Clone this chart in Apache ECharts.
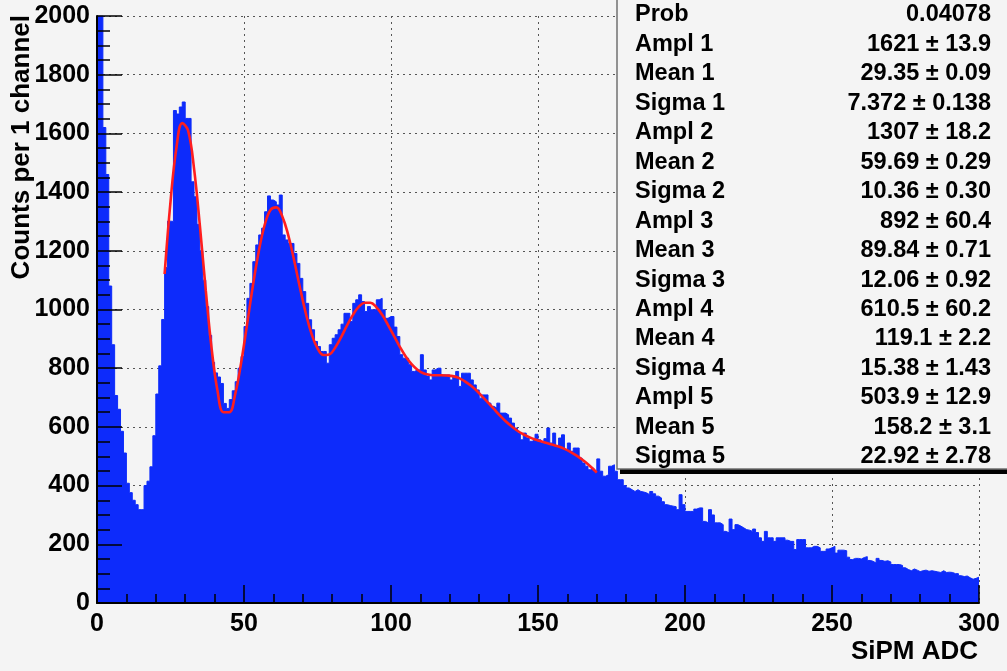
<!DOCTYPE html>
<html><head><meta charset="utf-8">
<script src="https://cdn.jsdelivr.net/npm/echarts@6/dist/echarts.min.js"></script>
<style>html,body{margin:0;padding:0;background:#f4f4f4;} #c{width:1007px;height:671px;}</style>
</head><body><div id="c"></div>
<script>
// Histogram counts per 1-channel bin (bins 0..299)
const countsA = [
2000,2000,1620,1460,1080,880,707,660,585,511,
408,376,350,335,318,318,400,415,464,570,
712,808,966,1143,1301,1300,1678,1666,1690,1707,
1651,1651,1435,1384,1290,1200,1100,1010,912,820,
784,770,748,680,663,693,723,754,800,840,
942,1038,1089,1163,1220,1254,1277,1333,1387,1373,
1367,1356,1390,1254,1237,1225,1225,1191,1157,1106,
1061,1021,965,931,891,874,857,857,817,880,
902,914,931,950,987,987,959,1021,1033,1050,
1027,993,1010,999,999,1033,1038,999,970,976];
const countsB = [
976,940,908,846,834,834,812,789,794,794,
846,794,773,760,794,800,800,777,777,777,
760,773,789,738,783,783,783,760,743,726,
698,709,709,681,670,664,681,647,647,641,
630,613,596,579,556,579,562,551,556,575,
556,545,560,596,545,579,534,562,573,522,
545,517,528,528,494,477,466,454,460,449,
491,449,432,437,466,471,449,420,420,400,
392,386,380,386,380,378,375,369,380,372,
364,358,345,335,332,330,328,318,369,335];
const countsC = [
312,312,312,320,324,324,278,273,318,300,
273,273,267,244,239,286,250,267,262,256,
250,248,244,252,240,222,210,244,222,222,
210,222,222,222,214,210,210,182,216,216,
216,188,188,193,193,188,176,176,184,188,
193,170,180,180,178,156,148,152,152,150,
155,158,145,142,136,152,145,142,144,140,
131,131,131,128,120,114,110,116,112,107,
110,112,108,110,108,106,104,110,104,105,
104,100,100,93,90,92,86,81,84,88];

// Fit curve (red)
const fitX = [23,25,27,29,31,33,35,37,39,41,43,45,47,49,51,53,55,57,59,61,63,65,67,69,71,73,75,77,79,81,83,85,87,89,91,93,95,97,99,101,103,105,107,109,111,113,115,117,119,121,123,125,127,129,131,133,135,137,139,141,143,145,147,149,151,153,155,157,159,161,163,165,167,169,170];
const fitY = [1121,1367,1550,1635,1609,1481,1285,1065,866,722,650,650,711,817,946,1079,1197,1287,1339,1348,1318,1255,1170,1076,988,916,868,845,847,870,905,945,981,1009,1023,1023,1008,982,947,910,873,840,814,795,783,778,776,776,775,773,767,756,742,725,704,683,661,639,619,602,587,575,565,557,551,545,539,533,525,515,503,489,473,454,444];

// Stats box text
const statNames = ["Prob","Ampl 1","Mean 1","Sigma 1","Ampl 2","Mean 2","Sigma 2","Ampl 3","Mean 3","Sigma 3","Ampl 4","Mean 4","Sigma 4","Ampl 5","Mean 5","Sigma 5"];
const statValues = ["0.04078","1621 \u00b1 13.9","29.35 \u00b1 0.09","7.372 \u00b1 0.138","1307 \u00b1 18.2","59.69 \u00b1 0.29","10.36 \u00b1 0.30","892 \u00b1 60.4","89.84 \u00b1 0.71","12.06 \u00b1 0.92","610.5 \u00b1 60.2","119.1 \u00b1 2.2","15.38 \u00b1 1.43","503.9 \u00b1 12.9","158.2 \u00b1 3.1","22.92 \u00b1 2.78"];

const xTitle = "SiPM ADC";
const yTitle = "Counts per 1 channel";

const counts = countsA.concat(countsB, countsC);
const histData = counts.map((v, i) => [i, v]);
histData.push([counts.length, counts[counts.length - 1]]);
const fitData = fitX.map((x, i) => [x, fitY[i]]);

const FONT = '"Liberation Sans", Arial, Helvetica, sans-serif';
const BLUE = '#0d2bfb';
const chart = echarts.init(document.getElementById('c'), null, {renderer: 'canvas'});

const statGraphics = [];
statGraphics.push({type: 'rect', z: 100, shape: {x: 620, y: 466, width: 400, height: 8}, style: {fill: '#000'}});
statGraphics.push({type: 'rect', z: 101, shape: {x: 617, y: -5, width: 400, height: 474}, style: {fill: '#f4f4f4', stroke: '#707070', lineWidth: 1.5}});
statNames.forEach((n, i) => {
  const y = 15 + i * 29.45;
  statGraphics.push({type: 'text', z: 102, x: 635, y: y, style: {text: n, font: 'bold 23.5px ' + FONT, fill: '#000', align: 'left', verticalAlign: 'middle'}});
  statGraphics.push({type: 'text', z: 102, x: 991, y: y, style: {text: statValues[i], font: 'bold 23.5px ' + FONT, fill: '#000', align: 'right', verticalAlign: 'middle'}});
});
statGraphics.push({type: 'text', z: 102, x: 22, y: 15, rotation: Math.PI / 2, style: {text: yTitle, font: 'bold 26px ' + FONT, fill: '#000', align: 'right', verticalAlign: 'middle'}});

const dotted = {color: '#555', type: [2, 4], width: 1};
const labelStyle = {color: '#000', fontFamily: FONT, fontWeight: 'bold'};
const plain = v => String(v);

chart.setOption({
  backgroundColor: '#f4f4f4',
  animation: false,
  grid: {left: 97, right: 28, top: 16, bottom: 68},
  xAxis: [
    {type: 'value', min: 0, max: 300, interval: 50, z: 0,
     axisLine: {show: false}, axisTick: {show: false}, axisLabel: {show: false},
     splitLine: {show: true, lineStyle: dotted}},
    {type: 'value', min: 0, max: 300, interval: 50, position: 'bottom', z: 10,
     axisLine: {show: true, onZero: false, lineStyle: {color: '#000', width: 2}},
     axisTick: {show: true, inside: true, length: 18, lineStyle: {color: '#000', width: 1.5}},
     minorTick: {show: true, splitNumber: 5, length: 9, lineStyle: {color: '#000', width: 1.5}},
     axisLabel: Object.assign({show: true, margin: 9, fontSize: 25, formatter: plain}, labelStyle),
     splitLine: {show: false},
     name: xTitle, nameLocation: 'end', nameGap: -1,
     nameTextStyle: Object.assign({fontSize: 26, align: 'right', verticalAlign: 'top', padding: [36, 0, 0, 0]}, labelStyle)}
  ],
  yAxis: [
    {type: 'value', min: 0, max: 2000, interval: 200, z: 0,
     axisLine: {show: false}, axisTick: {show: false}, axisLabel: {show: false},
     splitLine: {show: true, lineStyle: dotted}},
    {type: 'value', min: 0, max: 2000, interval: 200, position: 'left', z: 10,
     axisLine: {show: true, onZero: false, lineStyle: {color: '#000', width: 2}},
     axisTick: {show: true, inside: true, length: 25, lineStyle: {color: '#000', width: 1.5}},
     minorTick: {show: true, splitNumber: 4, length: 13, lineStyle: {color: '#000', width: 1.5}},
     axisLabel: Object.assign({show: true, margin: 7, fontSize: 25, formatter: plain}, labelStyle),
     splitLine: {show: false}}
  ],
  series: [
    {type: 'line', xAxisIndex: 0, yAxisIndex: 0, data: histData, step: 'end', showSymbol: false, symbol: 'none',
     lineStyle: {color: BLUE, width: 1}, areaStyle: {color: BLUE, opacity: 1}, z: 2, silent: true},
    {type: 'line', xAxisIndex: 0, yAxisIndex: 0, data: fitData, smooth: 0.4, showSymbol: false, symbol: 'none',
     lineStyle: {color: '#ff1e1e', width: 2.6}, z: 3, silent: true}
  ],
  graphic: statGraphics
});
</script>
</body></html>
